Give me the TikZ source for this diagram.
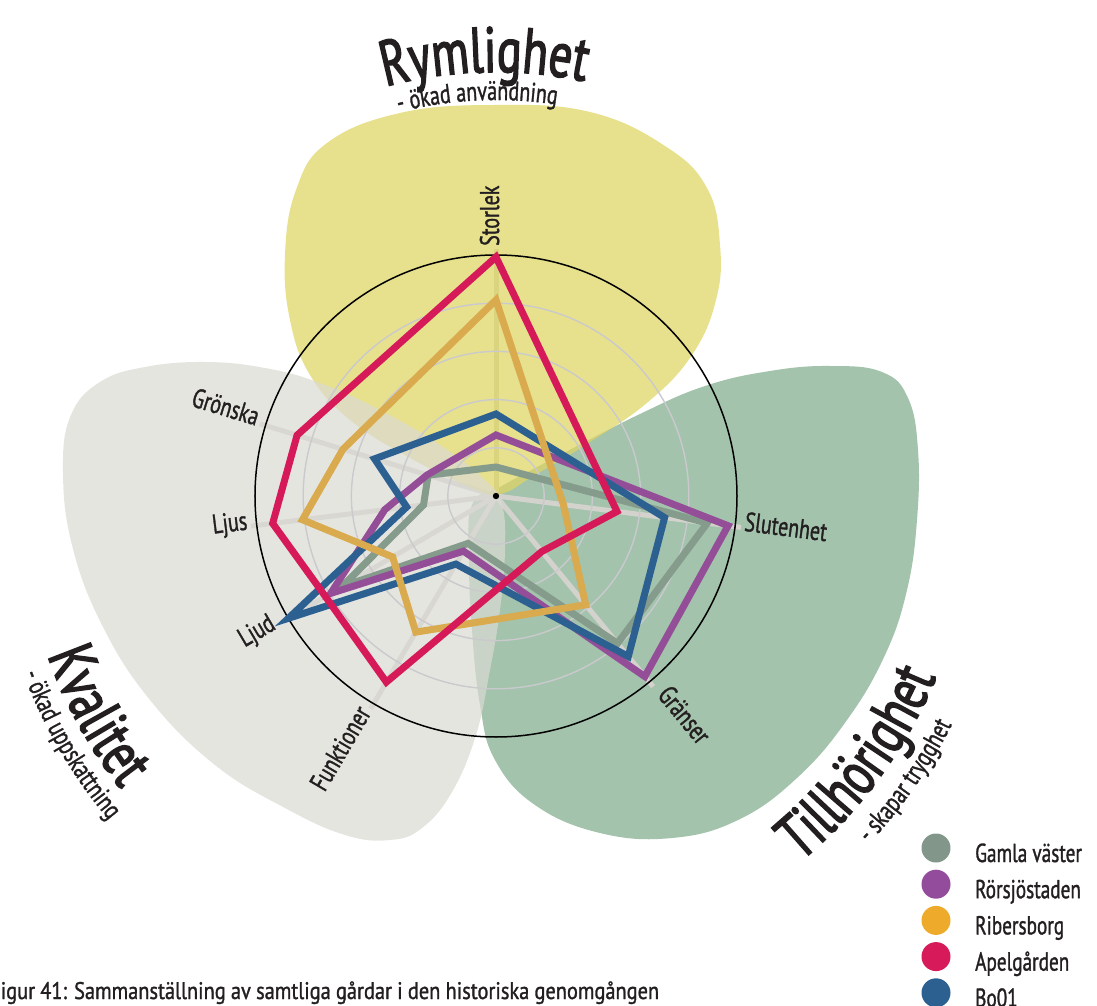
\documentclass[tikz,border=0pt]{standalone}
\usepackage{fontspec}
\setmainfont{PT Sans}[FakeStretch=0.74, FakeBold=1.2]
\newfontfamily\headfamily{PT Sans}[FakeStretch=0.72, FakeBold=2.2]
\newfontfamily\captionfamily{PT Sans}[FakeStretch=0.85, FakeBold=1.2]
\usetikzlibrary{decorations.text}

\definecolor{ink}{RGB}{35,31,32}
\definecolor{blobgreen}{RGB}{163,195,172}
\definecolor{blobyellow}{RGB}{223,213,98}
\definecolor{blobgray}{RGB}{219,218,211}
\definecolor{spokecol}{RGB}{212,210,205}
\definecolor{ringcol}{RGB}{202,202,206}
\definecolor{cgamla}{RGB}{133,155,140}
\definecolor{crors}{RGB}{148,78,152}
\definecolor{cribers}{RGB}{217,170,78}
\definecolor{capel}{RGB}{214,25,88}
\definecolor{cbo}{RGB}{44,96,145}
\definecolor{lgamla}{RGB}{130,151,138}
\definecolor{lrors}{RGB}{147,76,155}
\definecolor{lribers}{RGB}{238,170,42}
\definecolor{lapel}{RGB}{214,26,90}
\definecolor{lbo}{RGB}{44,96,145}

\newcommand\ttlfont{\headfamily\fontsize{64}{68}\selectfont}
\newcommand\subttlfont{\fontsize{27}{30}\selectfont}
\newcommand\axlabfont{\fontsize{27}{30}\selectfont}
\newcommand\legtxtfont{\fontsize{26}{28}\selectfont}
\newcommand\capfont{\captionfamily\fontsize{24}{26}\selectfont}

% one series of the radar chart: style, then the seven values
\newcommand\radar[8]{%
  \draw[#1] (90:#2) -- (163:#3) -- (187:#4) -- (210.5:#5) -- (239.5:#6)
    -- (309.5:#7) -- (352.7:#8) -- cycle;}

\begin{document}
\begin{tikzpicture}[x=1pt,y=1pt,
  series/.style={line width=7pt, line join=miter, miter limit=10},
  spokeline/.style={spokecol, line width=5pt},
  axlab/.style={font=\axlabfont, text=ink, inner sep=0pt, text height=0.72em, text depth=0.12em},
  legdot/.style={circle, minimum size=29pt, inner sep=0pt},
  legtxt/.style={font=\legtxtfont, text=ink, inner sep=0pt, anchor=base west}]

\useasboundingbox (-496,-510) rectangle (601,496);
\fill[white] (-496,-510) rectangle (601,496);

% the three theme areas
\begin{scope}[shift={(-496,496)}, yscale=-1]
  \fill[blobgreen] plot[smooth cycle, tension=0.7] coordinates {
    (472,505) (500,487) (560,455) (640,414) (705,386) (770,371) (830,366)
    (882,372) (908,398) (918,450) (917,520) (907,590) (885,655) (847,720)
    (797,778) (738,820) (672,838) (600,833) (535,805) (495,760) (480,705)
    (472,630) (469,560)};
\end{scope}

% spokes of the chart
\foreach \a in {90,163,187,210.5,239.5,309.5,352.7}
  \draw[spokeline] (0,0) -- (\a:247);

\begin{scope}[shift={(-496,496)}, yscale=-1]
  \fill[blobyellow, opacity=0.72] plot[smooth cycle, tension=0.7] coordinates {
    (495,105) (590,112) (665,146) (707,188) (720,245) (716,300) (692,355)
    (648,402) (590,442) (535,475) (500,494) (470,487) (410,458) (350,420)
    (310,375) (290,320) (285,255) (296,190) (327,143) (400,113)};
  \fill[blobgray, opacity=0.7] plot[smooth cycle, tension=0.7] coordinates {
    (63,470) (71,415) (100,382) (145,367) (205,362) (265,368) (320,383)
    (380,410) (440,445) (485,480) (502,505) (505,550) (500,610) (490,670)
    (476,735) (452,792) (422,828) (390,840) (345,835) (285,808) (215,765)
    (150,700) (102,625) (72,545)};
\end{scope}

% rings
\foreach \r in {48.2,96.4,144.6,192.8}
  \draw[ringcol, line width=1.4pt] (0,0) circle[radius=\r];
\draw[black, line width=1.5pt] (0,0) circle[radius=241];
\fill[black] (0,0) circle[radius=3.2];

% data series
\radar{series, cgamla}{29}{71}{73}{179}{55}{191}{213}
\radar{series, crors}{61}{72}{112}{192}{64}{234}{234}
\radar{series, cbo}{82}{127}{90}{241}{79}{208}{170}
\radar{series, cribers}{196}{160}{195}{120}{158}{141}{68}
\radar{series, capel}{239}{208}{225}{198}{216}{72}{122}

% axis labels
\node[axlab, anchor=west, rotate=90] (storlek) at (90:250) {Storlek};
\node[axlab, anchor=west, rotate=-7.3] (slutenhet) at (352.7:250) {Slutenhet};
\node[axlab, anchor=west, rotate=-50.5] (granser) at (309.5:256) {Gränser};
\node[axlab, anchor=east, rotate=-17] (gronska) at (163:250) {Grönska};
\node[axlab, anchor=east, rotate=7] (ljus) at (187:250) {Ljus};
\node[axlab, anchor=east, rotate=30.5] (ljud) at (210.5:256) {Ljud};
\node[axlab, anchor=east, rotate=59.5] (funktioner) at (239.5:250) {Funktioner};

% theme titles set along arcs round the chart centre
\path[decorate, decoration={text along path, text align=center,
    text={|\ttlfont\color{ink}|Rymlighet}}]
  (131.5:424) arc[start angle=131.5, end angle=51.5, radius=424];
\path[decorate, decoration={text along path, text align=center,
    text={|\subttlfont\color{ink}|- ökad användning}}]
  (132.7:396) arc[start angle=132.7, end angle=52.7, radius=396];
\path[decorate, decoration={text along path, text align=center,
    text={|\ttlfont\color{ink}|Kvalitet}}]
  (178.8:476) arc[start angle=178.8, end angle=238.8, radius=476];
\path[decorate, decoration={text along path, text align=center,
    text={|\subttlfont\color{ink}|- ökad uppskattning}}]
  (180.3:505) arc[start angle=180.3, end angle=240.3, radius=505];
\path[decorate, decoration={text along path, text align=center,
    text={|\ttlfont\color{ink}|Tillhörighet}}]
  (-71.3:476) arc[start angle=-71.3, end angle=-1.3, radius=476];
\path[decorate, decoration={text along path, text align=center,
    text={|\subttlfont\color{ink}|- skapar trygghet}}]
  (-69.8:510) arc[start angle=-69.8, end angle=0.2, radius=510];

% legend
\foreach \c/\t [count=\i from 0] in {lgamla/Gamla väster, lrors/Rörsjöstaden,
    lribers/Ribersborg, lapel/Apelgården, lbo/Bo01} {
  \node[legdot, fill=\c] (dot\i) at (440,-352-36.2*\i) {};
  \node[legtxt] (leg\i) at (479,-366-36.2*\i) {\t};
}

% caption
\node[font=\capfont, text=ink, inner sep=0pt, anchor=base west] (caption)
  at (-506,-503) {\makebox[669pt][s]{Figur 41: Sammanställning av samtliga gårdar i den historiska genomgången}};

\end{tikzpicture}
\end{document}
